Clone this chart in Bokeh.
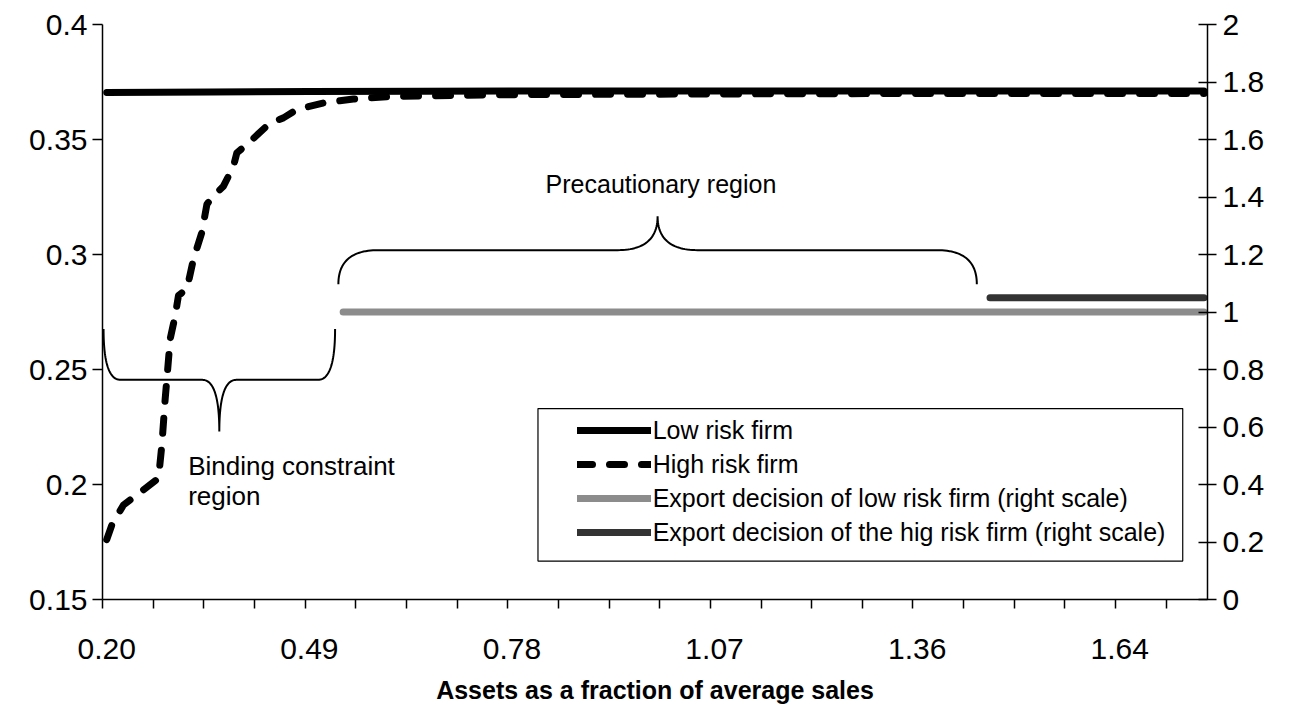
import numpy as np
from bokeh.plotting import figure
from bokeh.models import (Range1d, LinearAxis, FixedTicker, Legend, LegendItem,
                          BoxAnnotation, Label)
from bokeh.embed import file_html
from bokeh.resources import INLINE

# ---------------- data ----------------
# x axis: assets as a fraction of average sales
x_tick_values = [0.20, 0.4888, 0.7776, 1.0664, 1.3552, 1.644]
x_tick_labels = ["0.20", "0.49", "0.78", "1.07", "1.36", "1.64"]
x_start, x_end = 0.194, 1.769
x_minor_step = 0.0722

left_ticks = [0.15, 0.2, 0.25, 0.3, 0.35, 0.4]
left_labels = ["0.15", "0.2", "0.25", "0.3", "0.35", "0.4"]
right_ticks = [0.0, 0.2, 0.4, 0.6, 0.8, 1.0, 1.2, 1.4, 1.6, 1.8, 2.0]
right_labels = ["0", "0.2", "0.4", "0.6", "0.8", "1", "1.2", "1.4", "1.6", "1.8", "2"]

# Low risk firm (left scale)
low_x = [0.200, 0.350, 0.490, 0.650, 0.780, 1.070, 1.360, 1.640, 1.764]
low_y = [0.3704, 0.3707, 0.3709, 0.3710, 0.3711, 0.3711, 0.3711, 0.3711, 0.3711]

# High risk firm (left scale)
high_x = [0.200, 0.2074, 0.2239, 0.2430, 0.2738, 0.2786, 0.2833, 0.2858, 0.2905,
          0.2976, 0.3023, 0.3143, 0.3237, 0.3356, 0.3428, 0.3499, 0.3664, 0.3807,
          0.3855, 0.3997, 0.4329, 0.4519, 0.4710, 0.5089, 0.5516, 0.6039, 0.6513,
          0.780, 1.070, 1.360, 1.640, 1.764]
high_y = [0.1760, 0.1825, 0.1911, 0.1955, 0.2027, 0.2171, 0.2371, 0.2460, 0.2633,
          0.2734, 0.2822, 0.2850, 0.2980, 0.3096, 0.3218, 0.3247, 0.3297, 0.3384,
          0.3442, 0.3478, 0.3572, 0.3594, 0.3630, 0.3659, 0.3676, 0.3687, 0.3690,
          0.3695, 0.3698, 0.3700, 0.3700, 0.3700]

# Export decisions (right scale)
exp_low_x = [0.537, 1.764]
exp_low_y = [1.0, 1.0]
exp_high_x = [1.459, 1.764]
exp_high_y = [1.05, 1.05]

# region braces: (x from, x to, y at ends, y of bar, y of tip, curl width)
binding_brace = (0.1955, 0.5255, 0.2676, 0.2455, 0.2230, 0.0242)
precaution_brace = (0.5302, 1.4402, 0.2871, 0.3019, 0.3166, 0.057)

FONT = "Liberation Sans"

# ---------------- figure ----------------
p = figure(width=1282, height=706, output_backend="svg", toolbar_location=None,
           x_range=Range1d(x_start, x_end), y_range=Range1d(0.15, 0.4),
           min_border_left=102, min_border_right=75, min_border_top=24,
           min_border_bottom=104, x_axis_location=None, y_axis_location=None)
p.extra_y_ranges = {"right": Range1d(0, 2)}
p.outline_line_color = None
p.grid.visible = False
p.background_fill_color = "white"
p.border_fill_color = "white"

# axes
xaxis = LinearAxis(
    ticker=FixedTicker(ticks=x_tick_values,
                       minor_ticks=[x_start + k * x_minor_step for k in range(22)]),
    major_label_overrides={v: s for v, s in zip(x_tick_values, x_tick_labels)},
    axis_label="Assets as a fraction of average sales",
)
xaxis.major_tick_out = 0
xaxis.major_tick_in = 0
xaxis.minor_tick_out = 9
xaxis.minor_tick_in = 0
xaxis.minor_tick_line_color = "black"
xaxis.minor_tick_line_width = 1.5
xaxis.axis_line_color = "black"
xaxis.axis_line_width = 1.5
xaxis.major_label_standoff = 30
xaxis.major_label_text_font = FONT
xaxis.major_label_text_font_size = "30px"
xaxis.major_label_text_color = "black"
xaxis.axis_label_text_font = FONT
xaxis.axis_label_text_font_size = "25px"
xaxis.axis_label_text_font_style = "bold"
xaxis.axis_label_text_color = "black"
xaxis.axis_label_standoff = 14
p.add_layout(xaxis, "below")

yaxis = LinearAxis(ticker=FixedTicker(ticks=left_ticks),
                   major_label_overrides={v: s for v, s in zip(left_ticks, left_labels)})
yaxis.major_tick_out = 10
yaxis.major_tick_in = 0
yaxis.minor_tick_out = 0
yaxis.minor_tick_in = 0
yaxis.axis_line_width = 1.5
yaxis.major_tick_line_width = 1.5
yaxis.major_label_standoff = 5
yaxis.major_label_text_font = FONT
yaxis.major_label_text_font_size = "30px"
yaxis.major_label_text_color = "black"
p.add_layout(yaxis, "left")

raxis = LinearAxis(y_range_name="right", ticker=FixedTicker(ticks=right_ticks),
                   major_label_overrides={v: s for v, s in zip(right_ticks, right_labels)})
raxis.major_tick_out = 9
raxis.major_tick_in = 9
raxis.minor_tick_out = 0
raxis.minor_tick_in = 0
raxis.axis_line_width = 1.5
raxis.major_tick_line_width = 1.5
raxis.major_label_standoff = 6
raxis.major_label_text_font = FONT
raxis.major_label_text_font_size = "30px"
raxis.major_label_text_color = "black"
p.add_layout(raxis, "right")

# ---------------- lines ----------------
r_high = p.line(high_x, high_y, line_color="black", line_width=7, line_dash="15 17",
                line_cap="round", line_join="round")
r_low = p.line(low_x, low_y, line_color="black", line_width=7, line_cap="round")
r_exp_low = p.line(exp_low_x, exp_low_y, y_range_name="right", line_color="#8c8c8c",
                   line_width=7, line_cap="round")
r_exp_high = p.line(exp_high_x, exp_high_y, y_range_name="right", line_color="#333333",
                    line_width=7, line_cap="round")


# ---------------- braces ----------------
def brace(x0, x1, y_end, y_mid, y_tip, r, n=30):
    xc = (x0 + x1) / 2.0
    t = np.linspace(0, 1, n)

    def qb(a, c, b):
        return ((1 - t) ** 2 * a[0] + 2 * (1 - t) * t * c[0] + t ** 2 * b[0],
                (1 - t) ** 2 * a[1] + 2 * (1 - t) * t * c[1] + t ** 2 * b[1])

    segs = [qb((x0, y_end), (x0, y_mid), (x0 + r, y_mid)),
            qb((xc - r, y_mid), (xc, y_mid), (xc, y_tip)),
            qb((xc, y_tip), (xc, y_mid), (xc + r, y_mid)),
            qb((x1 - r, y_mid), (x1, y_mid), (x1, y_end))]
    return (np.concatenate([s[0] for s in segs]), np.concatenate([s[1] for s in segs]))


for b in (binding_brace, precaution_brace):
    bx, by = brace(*b)
    p.line(bx, by, line_color="black", line_width=2)

# ---------------- annotations ----------------
p.add_layout(Label(x=0.99, y=0.3305, text="Precautionary region", text_font=FONT,
                   text_font_size="25px", text_align="center", text_baseline="middle",
                   text_color="black"))
p.add_layout(Label(x=0.3161, y=0.2079, text="Binding constraint", text_font=FONT,
                   text_font_size="26px", text_align="left", text_baseline="middle",
                   text_color="black"))
p.add_layout(Label(x=0.3161, y=0.1949, text="region", text_font=FONT,
                   text_font_size="26px", text_align="left", text_baseline="middle",
                   text_color="black"))

# ---------------- legend ----------------
p.add_layout(BoxAnnotation(left=0.8147, right=1.7337, top=0.2330, bottom=0.1667,
                           fill_color=None, line_color="black", line_alpha=1.0,
                           line_width=1.2))
legend = Legend(items=[
    LegendItem(label="Low risk firm", renderers=[r_low]),
    LegendItem(label="High risk firm", renderers=[r_high]),
    LegendItem(label="Export decision of low risk firm (right scale)", renderers=[r_exp_low]),
    LegendItem(label="Export decision of the hig risk firm (right scale)", renderers=[r_exp_high]),
], location=(474.7, 50), padding=0, spacing=0, margin=0, glyph_width=74,
    glyph_height=34, label_height=34, label_standoff=2, border_line_color=None,
    background_fill_alpha=0, label_text_font=FONT, label_text_font_size="25px",
    label_text_color="black")
p.add_layout(legend)

open("out.html", "w").write(file_html(p, INLINE))
